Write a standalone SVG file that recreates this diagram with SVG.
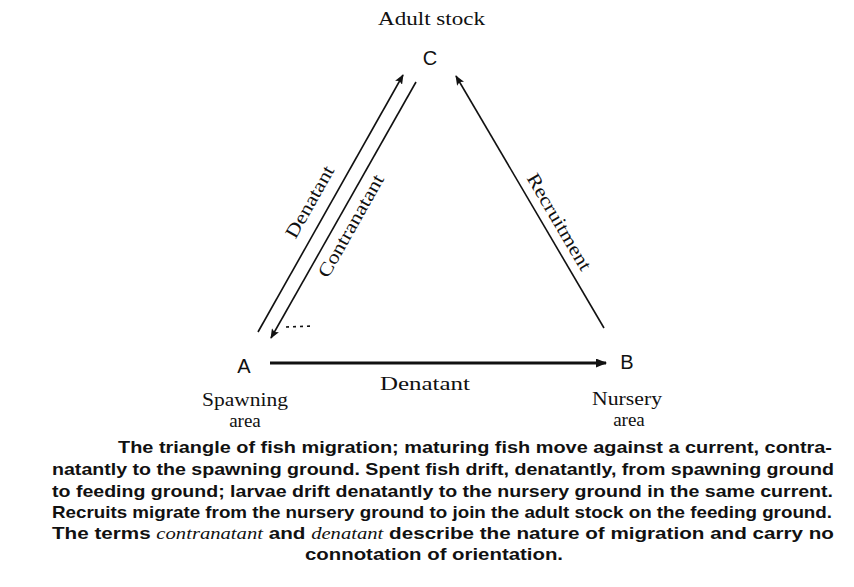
<svg xmlns="http://www.w3.org/2000/svg" width="854" height="587" viewBox="0 0 854 587">
<style>
.lbl{font-family:"Liberation Serif","Times New Roman",serif;font-size:19px;fill:#111}
.ltr{font-family:"Liberation Sans",Arial,sans-serif;font-size:20px;fill:#111}
.cap{font-family:"Liberation Sans",Arial,sans-serif;font-size:17px;font-weight:bold;fill:#111}
.it{font-family:"Liberation Serif","Times New Roman",serif;font-style:italic;font-weight:normal}
.edge{stroke:#111;stroke-width:1.6;fill:none}
</style>
<defs>
<marker id="ah" viewBox="0 0 10 8" refX="9" refY="4" markerWidth="10" markerHeight="8" markerUnits="userSpaceOnUse" orient="auto">
<path d="M0,0 L10,4 L0,8 L2,4 Z" fill="#111"/>
</marker>
<marker id="ahb" viewBox="0 0 10 8" refX="9" refY="4" markerWidth="12" markerHeight="9" markerUnits="userSpaceOnUse" orient="auto">
<path d="M0,0 L10,4 L0,8 Z" fill="#111"/>
</marker>
</defs>
<rect width="854" height="587" fill="#fff"/>
<g id="connectors">
<line class="edge" x1="258" y1="332" x2="403" y2="75" marker-end="url(#ah)"/>
<line class="edge" x1="416" y1="82" x2="271" y2="338" marker-end="url(#ah)"/>
<line x1="286" y1="327" x2="313" y2="326" stroke="#111" stroke-width="1.6" stroke-dasharray="3 4"/>
<line class="edge" x1="604" y1="328" x2="456" y2="76" marker-end="url(#ah)"/>
<line x1="270" y1="363" x2="606" y2="363" stroke="#111" stroke-width="3" marker-end="url(#ahb)"/>
<text class="lbl" transform="translate(310,202) rotate(-60.6)" text-anchor="middle" y="6" textLength="80" lengthAdjust="spacingAndGlyphs">Denatant</text>
<text class="lbl" transform="translate(351,226) rotate(-60.5)" text-anchor="middle" y="6" textLength="115" lengthAdjust="spacingAndGlyphs">Contranatant</text>
<text class="lbl" transform="translate(559,222) rotate(59.5)" text-anchor="middle" y="6" textLength="109" lengthAdjust="spacingAndGlyphs">Recruitment</text>
<text class="lbl" x="380" y="390" textLength="90" lengthAdjust="spacingAndGlyphs">Denatant</text>
</g>
<g id="node-C">
<text class="lbl" x="378" y="25" font-size="21" textLength="107" lengthAdjust="spacingAndGlyphs">Adult stock</text>
<text class="ltr" x="430" y="65" text-anchor="middle">C</text>
</g>
<g id="node-A">
<text class="ltr" x="244" y="373" text-anchor="middle">A</text>
<text class="lbl" x="245" y="406" text-anchor="middle" textLength="86" lengthAdjust="spacingAndGlyphs">Spawning</text>
<text class="lbl" x="245" y="427" text-anchor="middle">area</text>
</g>
<g id="node-B">
<text class="ltr" x="627" y="369" text-anchor="middle">B</text>
<text class="lbl" x="627" y="405" text-anchor="middle" textLength="70" lengthAdjust="spacingAndGlyphs">Nursery</text>
<text class="lbl" x="629" y="426" text-anchor="middle">area</text>
</g>
<g id="caption">
<text class="cap" x="118" y="453" textLength="714" lengthAdjust="spacingAndGlyphs">The triangle of fish migration; maturing fish move against a current, contra-</text>
<text class="cap" x="52" y="475" textLength="782" lengthAdjust="spacingAndGlyphs">natantly to the spawning ground. Spent fish drift, denatantly, from spawning ground</text>
<text class="cap" x="52" y="497" textLength="781" lengthAdjust="spacingAndGlyphs">to feeding ground; larvae drift denatantly to the nursery ground in the same current.</text>
<text class="cap" x="52" y="518" textLength="780" lengthAdjust="spacingAndGlyphs">Recruits migrate from the nursery ground to join the adult stock on the feeding ground.</text>
<text class="cap" x="52" y="539" textLength="782" lengthAdjust="spacingAndGlyphs">The terms <tspan class="it">contranatant</tspan> and <tspan class="it">denatant</tspan> describe the nature of migration and carry no</text>
<text class="cap" x="305" y="560" textLength="258" lengthAdjust="spacingAndGlyphs">connotation of orientation.</text>
</g>
</svg>
